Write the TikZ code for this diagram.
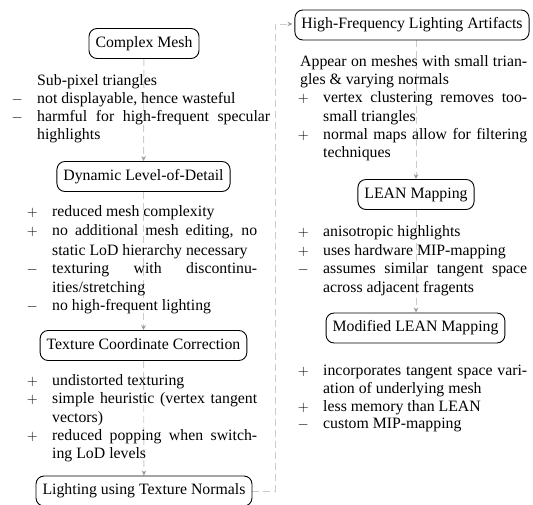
\documentclass[tikz,border=0pt]{standalone}
\usepackage{fontspec}
\setmainfont{Liberation Serif}
\usetikzlibrary{arrows.meta,backgrounds}
\begin{document}
\begin{tikzpicture}[x=1pt,y=-1pt,
  fnt/.style={font=\fontsize{15.8}{18}\selectfont},
  box/.style={fnt, draw, rounded corners=8pt, line width=0.9pt, inner xsep=6.5pt, inner ysep=0pt,
    minimum height=30pt, text height=11pt, text depth=3.5pt},
  txt/.style={fnt, anchor=base west, inner sep=0pt},
  lbl/.style={fnt, anchor=base east, inner sep=0pt},
  conn/.style={draw=black!20, line width=0.9pt, dash pattern=on 7pt off 4pt,
    -{Stealth[length=5pt,width=4.5pt,color=black!40]}}
]
\useasboundingbox (0,0) rectangle (533,505);

% ---------- left column boxes
\node[box] (cm)   at (144,43.5)  {Complex Mesh};
\node[box] (dlod) at (143.5,176.5) {Dynamic Level-of-Detail};
\node[box] (tcc)  at (143.5,345.5) {Texture Coordinate Correction};
\node[box] (ltn)  at (144,491)   {Lighting using Texture Normals};

% ---------- right column boxes
\node[box] (hf)   at (412,25)    {High-Frequency Lighting Artifacts};
\node[box] (lean) at (416,194.5) {LEAN Mapping};
\node[box] (mlm)  at (415.5,328) {Modified LEAN Mapping};

% ---------- block 1
\node[txt] (a1) at (37,86)  {Sub-pixel triangles};
\node[lbl] (a2l) at (23,104) {$-$};
\node[txt] (a2) at (37,104) {not displayable, hence wasteful};
\node[lbl] (a3l) at (23,122) {$-$};
\node[txt] (a3) at (37,122) {\makebox[233pt][s]{harmful for high-frequent specular}};
\node[txt] (a4) at (37,140) {highlights};

% ---------- block 2
\node[lbl] (b1l) at (38,217) {$+$};
\node[txt] (b1) at (52,217) {reduced mesh complexity};
\node[lbl] (b2l) at (38,236) {$+$};
\node[txt] (b2) at (52,236) {\makebox[205pt][s]{no additional mesh editing, no}};
\node[txt] (b3) at (52,255) {static LoD hierarchy necessary};
\node[lbl] (b4l) at (38,273) {$-$};
\node[txt] (b4) at (52,273) {\makebox[205pt][s]{texturing with discontinu-}};
\node[txt] (b5) at (52,292) {ities/stretching};
\node[lbl] (b6l) at (38,310) {$-$};
\node[txt] (b6) at (52,310) {no high-frequent lighting};

% ---------- block 3
\node[lbl] (c1l) at (38,385) {$+$};
\node[txt] (c1) at (52,385) {undistorted texturing};
\node[lbl] (c2l) at (38,403) {$+$};
\node[txt] (c2) at (52,403) {\makebox[205pt][s]{simple heuristic (vertex tangent}};
\node[txt] (c3) at (52,422) {vectors)};
\node[lbl] (c4l) at (38,440) {$+$};
\node[txt] (c4) at (52,440) {\makebox[205pt][s]{reduced popping when switch-}};
\node[txt] (c5) at (52,458) {ing LoD levels};

% ---------- block HF
\node[txt] (d1) at (300,67) {\makebox[227pt][s]{Appear on meshes with small trian-}};
\node[txt] (d2) at (300,85) {gles \& varying normals};
\node[lbl] (d3l) at (309,103) {$+$};
\node[txt] (d3) at (323,103) {\makebox[204pt][s]{vertex clustering removes too-}};
\node[txt] (d4) at (323,122) {small triangles};
\node[lbl] (d5l) at (309,140) {$+$};
\node[txt] (d5) at (323,140) {\makebox[204pt][s]{normal maps allow for filtering}};
\node[txt] (d6) at (323,158) {techniques};

% ---------- block LEAN
\node[lbl] (e1l) at (309,237) {$+$};
\node[txt] (e1) at (323,237) {anisotropic highlights};
\node[lbl] (e2l) at (309,255) {$+$};
\node[txt] (e2) at (323,255) {uses hardware MIP-mapping};
\node[lbl] (e3l) at (309,273) {$-$};
\node[txt] (e3) at (323,273) {\makebox[204pt][s]{assumes similar tangent space}};
\node[txt] (e4) at (323,292) {across adjacent fragents};

% ---------- block MLM
\node[lbl] (f1l) at (309,375) {$+$};
\node[txt] (f1) at (323,375) {\makebox[204pt][s]{incorporates tangent space vari-}};
\node[txt] (f2) at (323,393) {ation of underlying mesh};
\node[lbl] (f3l) at (309,411) {$+$};
\node[txt] (f3) at (323,411) {less memory than LEAN};
\node[lbl] (f4l) at (309,428) {$-$};
\node[txt] (f4) at (323,428) {custom MIP-mapping};

\coordinate (jb) at (275,491);
\coordinate (jt) at (275,24);

% ---------- connectors
\begin{pgfonlayer}{background}
\draw[conn] (cm) -- (dlod);
\draw[conn] (dlod) -- (tcc);
\draw[conn] (tcc) -- (ltn);
\draw[conn, shorten >=2pt] (ltn.east) -- (jb) -- (jt) -- (hf.west |- jt);
\draw[conn] (lean.north |- hf.south) -- (lean.north);
\draw[conn] (lean) -- (mlm.north -| lean.south);
\end{pgfonlayer}
\end{tikzpicture}
\end{document}
